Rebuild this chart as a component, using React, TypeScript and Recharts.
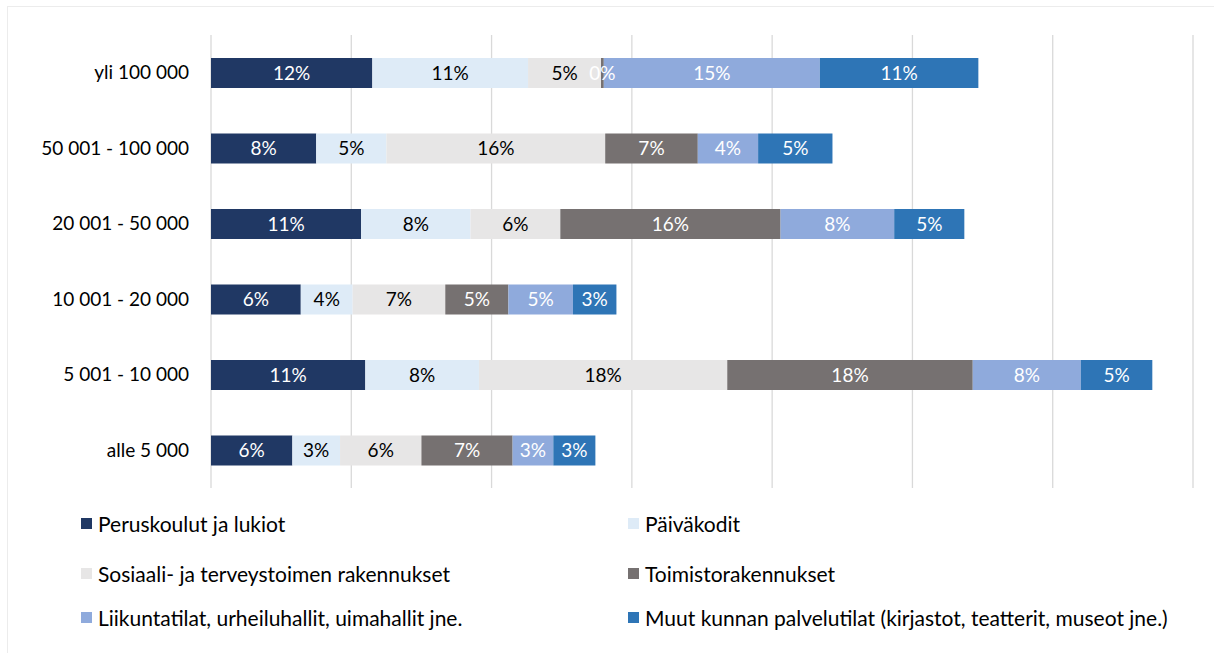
import React from 'react';
import { BarChart, Bar, XAxis, YAxis, CartesianGrid, LabelList } from 'recharts';

const categories = ['yli 100 000', '50 001 - 100 000', '20 001 - 50 000', '10 001 - 20 000', '5 001 - 10 000', 'alle 5 000'];
const peruskoulut = [11.5, 7.5, 10.7, 6.4, 11.0, 5.8];
const paivakodit = [11.1, 5.0, 7.8, 3.7, 8.1, 3.4];
const sosiaali = [5.2, 15.6, 6.4, 6.6, 17.7, 5.8];
const toimisto = [0.2, 6.6, 15.7, 4.5, 17.5, 6.5];
const liikunta = [15.4, 4.3, 8.1, 4.6, 7.7, 2.9];
const muut = [11.3, 5.3, 5.0, 3.1, 5.1, 3.0];
const xTicks = [0, 10, 20, 30, 40, 50, 60, 70];

const seriesInfo = [
  { key: 'peruskoulut', name: 'Peruskoulut ja lukiot', color: '#203864', text: '#ffffff', values: peruskoulut },
  { key: 'paivakodit', name: 'Päiväkodit', color: '#DEEBF7', text: '#000000', values: paivakodit },
  { key: 'sosiaali', name: 'Sosiaali- ja terveystoimen rakennukset', color: '#E7E6E6', text: '#000000', values: sosiaali },
  { key: 'toimisto', name: 'Toimistorakennukset', color: '#767171', text: '#ffffff', values: toimisto },
  { key: 'liikunta', name: 'Liikuntatilat, urheiluhallit, uimahallit jne.', color: '#8FAADC', text: '#ffffff', values: liikunta },
  { key: 'muut', name: 'Muut kunnan palvelutilat (kirjastot, teatterit, museot jne.)', color: '#2E75B6', text: '#ffffff', values: muut },
];

const data = categories.map((c, i) => {
  const row: any = { category: c };
  seriesInfo.forEach((s) => {
    row[s.key] = s.values[i];
  });
  return row;
});

const FONT = 'Lato, "Open Sans", sans-serif';

export default function App() {
  const legendPos = [
    { left: 81, top: 523 },
    { left: 628, top: 523 },
    { left: 81, top: 573 },
    { left: 628, top: 573 },
    { left: 81, top: 617 },
    { left: 628, top: 617 },
  ];
  return (
    <div style={{ position: 'absolute', left: 0, top: 0, width: 1214, height: 653, background: '#fff', fontFamily: FONT, overflow: 'hidden' }}>
      <div style={{ position: 'absolute', left: 7, top: 6, width: 1220, height: 700, border: '1.5px solid #ececec', boxSizing: 'border-box' }} />
      <div style={{ position: 'absolute', left: 0, top: 0 }}>
        <BarChart
          width={1214}
          height={490}
          data={data}
          layout="vertical"
          margin={{ top: 35, right: 21, bottom: 2, left: 0 }}
          barCategoryGap={0}
        >
          <CartesianGrid horizontal={false} vertical={true} stroke="#d9d9d9" strokeWidth={1.3} />
          <XAxis type="number" domain={[0, 70]} ticks={xTicks} hide />
          <YAxis
            type="category"
            dataKey="category"
            width={211}
            axisLine={false}
            tickLine={false}
            tick={{ fill: '#000', fontSize: 19, fontFamily: FONT, dx: -14 }}
          />
          {seriesInfo.map((s) => (
            <Bar key={s.key} dataKey={s.key} name={s.name} stackId="a" fill={s.color} barSize={30} isAnimationActive={false}>
              <LabelList
                dataKey={s.key}
                position="center"
                fill={s.text}
                fontSize={19}
                fontFamily={FONT}
                formatter={(v: any) => `${Math.round(Number(v))}%`}
              />
            </Bar>
          ))}
        </BarChart>
      </div>
      {seriesInfo.map((s, i) => (
        <div
          key={s.key}
          style={{
            position: 'absolute',
            left: legendPos[i].left,
            top: legendPos[i].top - 12,
            height: 24,
            display: 'flex',
            alignItems: 'center',
            fontSize: 21,
            color: '#000',
            whiteSpace: 'nowrap',
          }}
        >
          <div style={{ width: 11, height: 11, background: s.color, marginRight: 6 }} />
          <span>{s.name}</span>
        </div>
      ))}
    </div>
  );
}
